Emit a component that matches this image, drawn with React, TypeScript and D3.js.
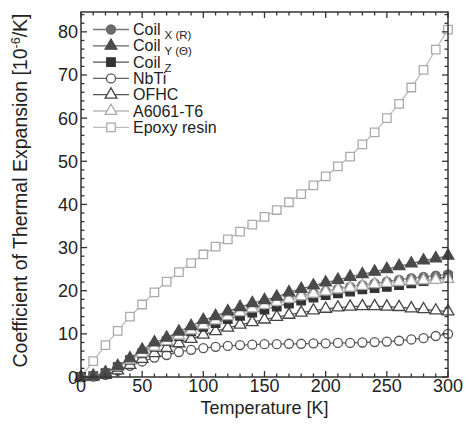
import React from 'react'
import * as d3 from 'd3'

// temperature points [K]
const temps = d3.range(0, 301, 10)

// thermal expansion coefficient [1e-6/K]
const coilX = [0, 0.2, 0.9, 2.3, 4.0, 5.8, 7.4, 8.6, 9.9, 11.2, 12.4, 13.4, 14.4, 15.3, 16.1, 16.8, 17.5, 18.2, 18.8, 19.4, 19.9, 20.4, 20.9, 21.3, 21.7, 22.1, 22.5, 22.9, 23.2, 23.5, 23.8]
const coilY = [0, 0.2, 1.0, 2.5, 4.3, 6.3, 8.0, 9.1, 10.5, 11.8, 13.2, 14.1, 15.2, 16.2, 17.1, 17.8, 18.6, 19.6, 20.4, 21.2, 21.9, 22.5, 23.2, 23.8, 24.4, 25.0, 25.7, 26.3, 27.0, 27.5, 28.1]
const coilZ = [0, 0.2, 0.9, 2.3, 3.9, 5.5, 7.0, 8.3, 9.5, 10.6, 11.6, 12.5, 13.4, 14.2, 14.9, 15.6, 16.3, 17.0, 17.7, 18.4, 19.0, 19.4, 19.8, 20.3, 20.6, 20.9, 21.3, 21.7, 22.2, 22.7, 23.3]
const nbti = [0, 0.1, 0.5, 1.5, 2.6, 3.6, 4.5, 5.1, 5.8, 6.3, 6.7, 7.0, 7.2, 7.4, 7.5, 7.6, 7.6, 7.7, 7.7, 7.8, 7.8, 7.9, 7.9, 8.0, 8.1, 8.2, 8.4, 8.7, 9.0, 9.5, 10.0]
const ofhc = [0, 0.1, 0.5, 1.5, 2.8, 4.2, 5.5, 6.7, 7.8, 8.8, 9.8, 10.6, 11.4, 12.1, 12.7, 13.3, 13.9, 14.4, 14.9, 15.4, 15.8, 16.1, 16.3, 16.4, 16.4, 16.3, 16.2, 15.9, 15.7, 15.4, 15.2]
const a6061 = [0, 0.3, 1.0, 2.3, 3.9, 5.5, 7.0, 8.3, 9.6, 10.8, 12.0, 13.1, 14.1, 15.0, 15.9, 16.7, 17.4, 18.1, 18.7, 19.3, 19.8, 20.3, 20.7, 21.1, 21.5, 21.8, 22.0, 22.2, 22.4, 22.5, 22.7]
const epoxy = [0, 3.7, 7.4, 10.7, 14.0, 16.8, 19.6, 22.1, 24.3, 26.4, 28.4, 30.2, 31.9, 33.7, 35.3, 37.1, 38.7, 40.5, 42.4, 44.4, 46.5, 48.8, 51.1, 53.9, 56.7, 60.0, 63.3, 67.1, 71.2, 75.9, 80.5]

const xTicks = [0, 50, 100, 150, 200, 250, 300]
const yTicks = [0, 10, 20, 30, 40, 50, 60, 70, 80]

type Series = {
  name: string
  sub?: string
  values: number[]
  symbol: d3.SymbolType
  size: number
  fill: string
  stroke: string
  line: string
}

const series: Series[] = [
  { name: 'Coil', sub: 'X (R)', values: coilX, symbol: d3.symbolCircle, size: 64, fill: '#6a6a6a', stroke: '#6a6a6a', line: '#777' },
  { name: 'Coil', sub: 'Y (\u0398)', values: coilY, symbol: d3.symbolTriangle, size: 60, fill: '#4a4a4a', stroke: '#4a4a4a', line: '#666' },
  { name: 'Coil', sub: 'Z', values: coilZ, symbol: d3.symbolSquare, size: 72, fill: '#333', stroke: '#333', line: '#555' },
  { name: 'NbTi', values: nbti, symbol: d3.symbolCircle, size: 64, fill: '#fff', stroke: '#555', line: '#666' },
  { name: 'OFHC', values: ofhc, symbol: d3.symbolTriangle, size: 60, fill: '#fff', stroke: '#444', line: '#555' },
  { name: 'A6061-T6', values: a6061, symbol: d3.symbolTriangle, size: 60, fill: '#fff', stroke: '#aaa', line: '#bbb' },
  { name: 'Epoxy resin', values: epoxy, symbol: d3.symbolSquare, size: 72, fill: '#fff', stroke: '#aaa', line: '#bbb' },
]

// drawing order (back to front)
const drawOrder = [6, 3, 4, 2, 0, 5, 1]

const left = 81, right = 448, top = 12, bottom = 377

const x = d3.scaleLinear().domain([0, 300]).range([left, right])
const y = d3.scaleLinear().domain([0, 84.6]).range([bottom, top])

const font = 'Liberation Sans, Arial, Helvetica, sans-serif'
const axisColor = '#333'

export default function App() {
  const line = d3.line<number>().x((_, i) => x(temps[i])).y(v => y(v))
  const xMinor = d3.range(0, 301, 10)
  const yMinor = d3.range(0, 85, 2)

  return (
    <div style={{ position: 'fixed', left: 0, top: 0 }}>
      <svg width={469} height={426} style={{ display: 'block', background: '#fff' }} fontFamily={font}>
        {/* data */}
        {drawOrder.map(k => {
          const s = series[k]
          const sym = d3.symbol().type(s.symbol).size(s.size)()!
          return (
            <g key={k}>
              <path d={line(s.values)!} fill="none" stroke={s.line} strokeWidth={1.3} />
              {s.values.map((v, i) => (
                <path key={i} d={sym} transform={`translate(${x(temps[i])},${y(v)})`}
                  fill={s.fill} stroke={s.stroke} strokeWidth={1.3} />
              ))}
            </g>
          )
        })}

        {/* frame */}
        <rect x={left} y={top} width={right - left} height={bottom - top} fill="none" stroke={axisColor} strokeWidth={1.5} />
        {xMinor.map(t => {
          const len = t % 50 === 0 ? 6 : 3.5
          return (
            <g key={'xt' + t} stroke={axisColor} strokeWidth={1.3}>
              <line x1={x(t)} x2={x(t)} y1={bottom} y2={bottom - len} />
              <line x1={x(t)} x2={x(t)} y1={top} y2={top + len} />
            </g>
          )
        })}
        {yMinor.map(t => {
          const len = t % 10 === 0 ? 6 : 3.5
          return (
            <g key={'yt' + t} stroke={axisColor} strokeWidth={1.3}>
              <line x1={left} x2={left + len} y1={y(t)} y2={y(t)} />
              <line x1={right} x2={right - len} y1={y(t)} y2={y(t)} />
            </g>
          )
        })}
        {xTicks.map(t => (
          <text key={'xl' + t} x={x(t)} y={bottom + 15} textAnchor="middle" fontSize={18} fill="#222">{t}</text>
        ))}
        {yTicks.map(t => (
          <text key={'yl' + t} x={left - 3} y={y(t) + 6.5} textAnchor="end" fontSize={18} fill="#222">{t}</text>
        ))}

        <text x={(left + right) / 2} y={414} textAnchor="middle" fontSize={18} fill="#222">Temperature [K]</text>
        <text transform={`translate(27,${(top + bottom) / 2 - 4}) rotate(-90)`} textAnchor="middle" fontSize={19.5} fill="#222">
          Coefficient of Thermal Expansion [10<tspan dy={-7} fontSize={12.5}>-6</tspan><tspan dy={7}>/K]</tspan>
        </text>

        {/* legend */}
        {series.map((s, k) => {
          const cy = 29.5 + k * 16.3
          const sym = d3.symbol().type(s.symbol).size(s.size)()!
          return (
            <g key={'lg' + k}>
              <line x1={93} x2={129} y1={cy} y2={cy} stroke={s.line} strokeWidth={1.3} />
              <path d={sym} transform={`translate(111,${cy})`} fill={s.fill} stroke={s.stroke} strokeWidth={1.3} />
              <text x={133} y={cy + 5.5} fontSize={16} fill="#222">
                {s.name}
                {s.sub && <tspan dx={4} dy={4} fontSize={11.5}>{s.sub}</tspan>}
              </text>
            </g>
          )
        })}
      </svg>
    </div>
  )
}
